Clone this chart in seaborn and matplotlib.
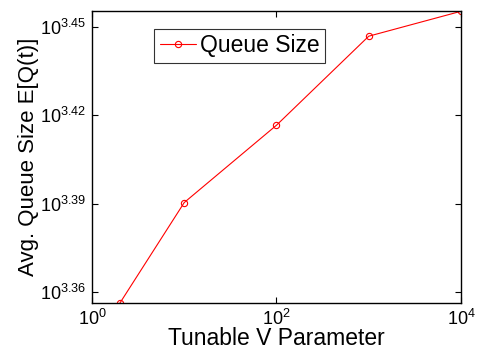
import numpy as np
import pandas as pd
import matplotlib
matplotlib.use("Agg")
import matplotlib.pyplot as plt
import matplotlib.ticker as mticker
import seaborn as sns

# data
v_param = [2, 10, 100, 1000, 10000]
queue_size = [2271, 2457, 2610, 2798, 2853]
y_tick_exps = [3.36, 3.39, 3.42, 3.45]
x_tick_vals = [1, 100, 10000]

df = pd.DataFrame({"V": v_param, "Q": queue_size, "series": "Queue Size"})

sns.set_style("ticks")
plt.rcParams["font.family"] = ["Liberation Sans", "DejaVu Sans"]
plt.rcParams["mathtext.default"] = "regular"
for k in ["text.color", "axes.labelcolor", "xtick.color", "ytick.color", "axes.edgecolor"]:
    plt.rcParams[k] = "black"

fig = plt.figure(figsize=(4.78, 3.58), dpi=100)
ax = fig.add_axes([0.1925, 0.1536, 0.7719, 0.8157])

sns.lineplot(data=df, x="V", y="Q", hue="series", palette=["red"],
             marker="o", markersize=4.5, markerfacecolor="none",
             markeredgecolor="red", markeredgewidth=0.8, linewidth=0.8, ax=ax)

ax.set_xscale("log")
ax.set_yscale("log")
ax.set_xlim(1, 10000)
ax.set_ylim(10 ** 3.3563, 10 ** 3.4554)

ax.xaxis.set_major_locator(mticker.FixedLocator(x_tick_vals))
ax.xaxis.set_major_formatter(mticker.FixedFormatter(
    [f"$10^{{{int(np.log10(v))}}}$" for v in x_tick_vals]))
ax.xaxis.set_minor_locator(mticker.NullLocator())
ax.yaxis.set_major_locator(mticker.FixedLocator([10 ** e for e in y_tick_exps]))
ax.yaxis.set_major_formatter(mticker.FixedFormatter(
    [f"$10^{{{e:.2f}}}$" for e in y_tick_exps]))
ax.yaxis.set_minor_locator(mticker.NullLocator())

ax.tick_params(direction="in", top=True, right=True, length=4, width=0.8,
               labelsize=13, pad=4)
for s in ax.spines.values():
    s.set_linewidth(1.0)

ax.set_xlabel("Tunable V Parameter", fontsize=16.5, labelpad=-1)
ax.set_ylabel("Avg. Queue Size E[Q(t)]", fontsize=16, labelpad=1)

leg = ax.legend(loc="upper left", bbox_to_anchor=(0.168, 0.94), fontsize=16.5,
                frameon=True, fancybox=False, edgecolor="black",
                handlelength=1.6, handletextpad=0.15, borderpad=0.25,
                borderaxespad=0)
leg.get_frame().set_linewidth(0.8)

fig.savefig("out.png", dpi=100)
